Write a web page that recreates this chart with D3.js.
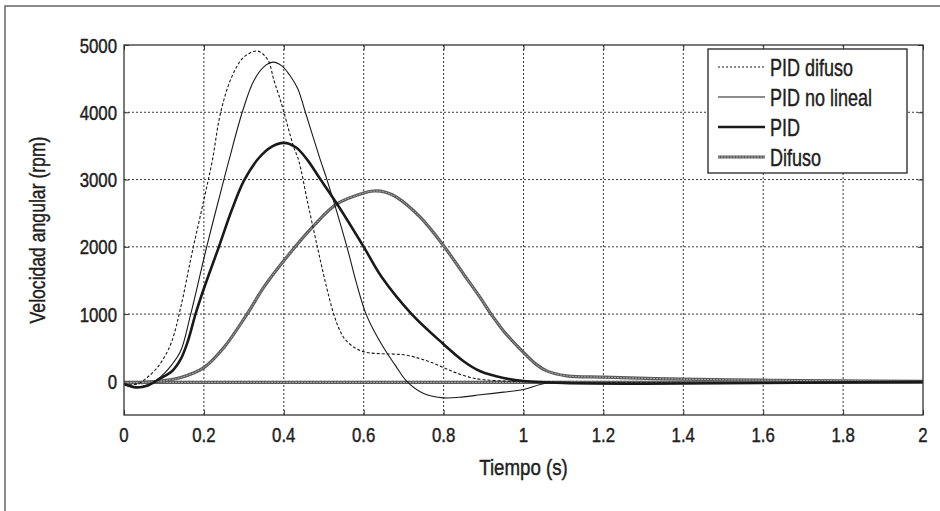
<!DOCTYPE html>
<html>
<head>
<meta charset="utf-8">
<script src="https://cdn.jsdelivr.net/npm/d3@7"></script>
<style>
  body { margin: 0; background: #fff; }
  svg { display: block; }
  text { font-family: "Liberation Sans", Arial, sans-serif; fill: #1e1e1e; stroke: #1e1e1e; stroke-width: 0.45; }
</style>
</head>
<body>
<svg id="chart" width="940" height="511"></svg>
<script>
// values
const xTicks = [0, 0.2, 0.4, 0.6, 0.8, 1, 1.2, 1.4, 1.6, 1.8, 2];
const yTicks = [0, 1000, 2000, 3000, 4000, 5000];

const pidDifusoT = [0, 0.02, 0.04, 0.058, 0.08, 0.1, 0.12, 0.142, 0.17, 0.2, 0.221, 0.242, 0.27, 0.3, 0.334, 0.36, 0.375, 0.392, 0.425, 0.4375, 0.46, 0.484, 0.505, 0.525, 0.54, 0.554, 0.58, 0.608, 0.65, 0.7, 0.74, 0.77, 0.8, 0.83, 0.867, 0.9, 0.95, 1.0, 1.2, 1.5, 2.0];
const pidDifusoV = [-40, -50, -20, 57, 180, 350, 600, 1100, 1900, 2700, 3280, 4000, 4530, 4820, 4910, 4780, 4480, 4170, 3480, 3280, 2650, 2000, 1450, 1000, 760, 620, 490, 430, 410, 395, 340, 280, 205, 130, 57, 25, 5, -5, -20, -20, -5];

const pidNoLinealT = [0, 0.03, 0.06, 0.09, 0.12, 0.142, 0.167, 0.207, 0.25, 0.2625, 0.296, 0.325, 0.355, 0.3735, 0.395, 0.415, 0.435, 0.454, 0.492, 0.508, 0.558, 0.58, 0.604, 0.625, 0.65, 0.68, 0.708, 0.75, 0.8, 0.85, 0.892, 0.95, 1.0, 1.06, 1.2, 1.5, 2.0];
const pidNoLinealV = [-40, -80, -50, 60, 250, 454, 1000, 2000, 3000, 3280, 4000, 4470, 4700, 4745, 4690, 4550, 4350, 4000, 3280, 3000, 2000, 1500, 1030, 760, 500, 230, 0, -180, -245, -230, -200, -160, -120, -25, -30, -30, -5];

const pidT = [0, 0.03, 0.06, 0.09, 0.12, 0.142, 0.16, 0.179, 0.2, 0.2375, 0.27, 0.3, 0.3375, 0.37, 0.4, 0.43, 0.458, 0.492, 0.533, 0.6, 0.645, 0.72, 0.8, 0.85, 0.892, 0.95, 1.0, 1.1, 1.3, 1.6, 2.0];
const pidV = [-40, -90, -60, 40, 150, 330, 600, 1000, 1380, 2000, 2550, 2980, 3320, 3490, 3545, 3480, 3300, 3000, 2640, 2000, 1550, 1000, 553, 300, 150, 50, 5, -25, -35, -25, -5];

const difusoT = [0, 0.05, 0.1, 0.142, 0.2, 0.25, 0.308, 0.35, 0.4, 0.475, 0.533, 0.6, 0.625, 0.655, 0.683, 0.742, 0.8, 0.85, 0.89, 0.92, 0.95, 1.0, 1.03, 1.058, 1.108, 1.2, 1.4, 1.6, 1.8, 2.0];
const difusoV = [-20, -15, 10, 57, 205, 503, 1000, 1400, 1793, 2314, 2637, 2800, 2830, 2810, 2735, 2437, 2016, 1595, 1260, 990, 750, 430, 260, 156, 82, 62, 33, 18, 8, 0];

// flat trace at zero drawn in the same style as "Difuso"
const refT = [0, 2];
const refV = [-15, -15];

const legendLabels = ['PID difuso', 'PID no lineal', 'PID', 'Difuso'];

const width = 940, height = 511;
const margin = { top: 45, right: 17, bottom: 96, left: 124 };
const iw = width - margin.left - margin.right;
const ih = height - margin.top - margin.bottom;

const svg = d3.select('#chart');

// outer frame (only left and top edges fall inside the picture)
svg.append('rect')
    .attr('x', 5).attr('y', 6)
    .attr('width', 960).attr('height', 540)
    .attr('fill', 'none')
    .attr('stroke', '#666')
    .attr('stroke-width', 1.5);

const x = d3.scaleLinear().domain([0, 2]).range([0, iw]);
const y = d3.scaleLinear().domain([-500, 5000]).range([ih, 0]);

const g = svg.append('g').attr('transform', `translate(${margin.left},${margin.top})`);

g.append('clipPath').attr('id', 'clip')
    .append('rect').attr('width', iw).attr('height', ih);

// condense text horizontally to mimic the narrow typeface
function condense(sel, k) {
    sel.each(function () {
        const w = this.getComputedTextLength();
        d3.select(this).attr('textLength', w * k).attr('lengthAdjust', 'spacingAndGlyphs');
    });
}

// grid
const grid = g.append('g')
    .attr('stroke', '#3a3a3a')
    .attr('stroke-width', 1)
    .attr('stroke-dasharray', '2,2');
grid.selectAll('.vg')
    .data(xTicks.slice(1, -1))
    .enter().append('line')
    .attr('x1', d => x(d)).attr('x2', d => x(d))
    .attr('y1', 0).attr('y2', ih);
grid.selectAll('.hg')
    .data(yTicks.filter(d => d < 5000))
    .enter().append('line')
    .attr('x1', 0).attr('x2', iw)
    .attr('y1', d => y(d)).attr('y2', d => y(d));

// axes with inward ticks on all four sides
const tickLen = 5;
const axisBottom = d3.axisBottom(x).tickValues(xTicks).tickSize(-tickLen).tickFormat('');
const axisTop = d3.axisTop(x).tickValues(xTicks).tickSize(-tickLen).tickFormat('');
const axisLeft = d3.axisLeft(y).tickValues(yTicks).tickSize(-tickLen).tickFormat('');
const axisRight = d3.axisRight(y).tickValues(yTicks).tickSize(-tickLen).tickFormat('');

[[axisBottom, `translate(0,${ih})`], [axisTop, 'translate(0,0)'],
 [axisLeft, 'translate(0,0)'], [axisRight, `translate(${iw},0)`]].forEach(([ax, tr]) => {
    const a = g.append('g').attr('transform', tr).call(ax);
    a.select('.domain').remove();
    a.selectAll('line').attr('stroke', '#333');
});

// tick labels
const xLab = g.append('g').selectAll('text')
    .data(xTicks)
    .enter().append('text')
    .attr('x', d => x(d))
    .attr('y', ih + 27)
    .attr('text-anchor', 'middle')
    .attr('font-size', 21)
    .text(d => String(+d.toFixed(1)));
condense(xLab, 0.8);

const yLab = g.append('g').selectAll('text')
    .data(yTicks)
    .enter().append('text')
    .attr('x', -7)
    .attr('y', d => y(d))
    .attr('dy', '0.36em')
    .attr('text-anchor', 'end')
    .attr('font-size', 21)
    .text(d => d);
condense(yLab, 0.8);

// axis titles
const xTitle = svg.append('text')
    .attr('x', margin.left + iw / 2)
    .attr('y', 475)
    .attr('text-anchor', 'middle')
    .attr('font-size', 22)
    .text('Tiempo (s)');
condense(xTitle, 0.85);

const yTitle = svg.append('text')
    .attr('transform', `translate(45,${margin.top + ih / 2}) rotate(-90)`)
    .attr('text-anchor', 'middle')
    .attr('font-size', 22)
    .text('Velocidad angular (rpm)');
condense(yTitle, 0.8);

// series
const line = d3.line()
    .x(d => x(d[0]))
    .y(d => y(d[1]))
    .curve(d3.curveCatmullRom.alpha(0.5));

const zip = (t, v) => t.map((d, i) => [d, v[i]]);

const plot = g.append('g').attr('clip-path', 'url(#clip)');

function drawDifuso(sel, data) {
    sel.append('path').datum(data).attr('d', line)
        .attr('fill', 'none').attr('stroke', '#5c5c5c').attr('stroke-width', 3.2);
    sel.append('path').datum(data).attr('d', line)
        .attr('fill', 'none').attr('stroke', '#a8a8a8').attr('stroke-width', 1)
        .attr('stroke-dasharray', '2,1');
}

drawDifuso(plot, zip(refT, refV));
drawDifuso(plot, zip(difusoT, difusoV));

plot.append('path').datum(zip(pidT, pidV)).attr('d', line)
    .attr('fill', 'none').attr('stroke', '#1a1a1a').attr('stroke-width', 2.6);

plot.append('path').datum(zip(pidNoLinealT, pidNoLinealV)).attr('d', line)
    .attr('fill', 'none').attr('stroke', '#1a1a1a').attr('stroke-width', 1.1);

plot.append('path').datum(zip(pidDifusoT, pidDifusoV)).attr('d', line)
    .attr('fill', 'none').attr('stroke', '#1a1a1a').attr('stroke-width', 1.1)
    .attr('stroke-dasharray', '3,2');

// box
g.append('rect')
    .attr('width', iw).attr('height', ih)
    .attr('fill', 'none').attr('stroke', '#333').attr('stroke-width', 1.3);

// legend
const lg = svg.append('g').attr('transform', 'translate(708,49)');
lg.append('rect')
    .attr('width', 199).attr('height', 124)
    .attr('fill', '#fff').attr('stroke', '#222').attr('stroke-width', 1.3);

const rowY = i => 18 + i * 30;
const styles = [
    { w: 1.1, dash: '2,2' },
    { w: 1.1, dash: null },
    { w: 2.6, dash: null }
];
legendLabels.forEach((lab, i) => {
    const ry = rowY(i);
    if (i === 3) {
        const sample = lg.append('g');
        sample.append('line').attr('x1', 10).attr('x2', 57).attr('y1', ry).attr('y2', ry)
            .attr('stroke', '#5c5c5c').attr('stroke-width', 3.2);
        sample.append('line').attr('x1', 10).attr('x2', 57).attr('y1', ry).attr('y2', ry)
            .attr('stroke', '#a8a8a8').attr('stroke-width', 1).attr('stroke-dasharray', '2,1');
    } else {
        lg.append('line')
            .attr('x1', 10).attr('x2', 57)
            .attr('y1', ry).attr('y2', ry)
            .attr('stroke', '#1a1a1a')
            .attr('stroke-width', styles[i].w)
            .attr('stroke-dasharray', styles[i].dash);
    }
    const t = lg.append('text')
        .attr('x', 62).attr('y', ry + 8.5)
        .attr('font-size', 24)
        .text(lab);
    condense(t, 0.75);
});
</script>
</body>
</html>
